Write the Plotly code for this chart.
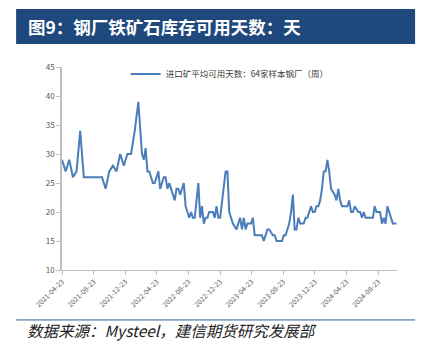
import plotly.graph_objects as go

dates = [
    "2021-04-23", "2021-05-07", "2021-05-21", "2021-06-04", "2021-06-18", "2021-07-02", "2021-07-16",
    "2021-09-24", "2021-10-08", "2021-10-22", "2021-11-05", "2021-11-19", "2021-12-03", "2021-12-17",
    "2021-12-31", "2022-01-14", "2022-01-28", "2022-02-11", "2022-02-25", "2022-03-04", "2022-03-11",
    "2022-03-18", "2022-03-25", "2022-04-08", "2022-04-15", "2022-04-29", "2022-05-06", "2022-05-20",
    "2022-05-27", "2022-06-03", "2022-06-10", "2022-06-24", "2022-07-01", "2022-07-08", "2022-07-15",
    "2022-07-22", "2022-08-05", "2022-08-12", "2022-08-19", "2022-08-26", "2022-09-02", "2022-09-09",
    "2022-09-16", "2022-09-30", "2022-10-07", "2022-10-14", "2022-10-21", "2022-10-28", "2022-11-04",
    "2022-11-11", "2022-11-25", "2022-12-02", "2022-12-09", "2022-12-16", "2022-12-23", "2023-01-06",
    "2023-01-13", "2023-01-20", "2023-01-27", "2023-02-03", "2023-02-10", "2023-02-24", "2023-03-10",
    "2023-03-17", "2023-03-24", "2023-03-31", "2023-04-07", "2023-04-21", "2023-04-28", "2023-05-05",
    "2023-06-02", "2023-06-09", "2023-06-23", "2023-06-30", "2023-07-14", "2023-07-21", "2023-07-28",
    "2023-08-18", "2023-08-25", "2023-09-01", "2023-09-08", "2023-09-15", "2023-09-22", "2023-09-29",
    "2023-10-06", "2023-10-13", "2023-10-20", "2023-10-27", "2023-11-10", "2023-11-17", "2023-11-24",
    "2023-12-08", "2023-12-15", "2023-12-22", "2023-12-29", "2024-01-05", "2024-01-12", "2024-01-19",
    "2024-01-26", "2024-02-02", "2024-02-09", "2024-02-16", "2024-02-23", "2024-03-08", "2024-03-15",
    "2024-03-22", "2024-03-29", "2024-04-05", "2024-04-26", "2024-05-03", "2024-05-10", "2024-05-17",
    "2024-05-24", "2024-06-07", "2024-06-14", "2024-06-21", "2024-06-28", "2024-07-05", "2024-08-02",
    "2024-08-09", "2024-08-16", "2024-08-30", "2024-09-06", "2024-09-13", "2024-09-20", "2024-09-27",
    "2024-10-04", "2024-10-18", "2024-11-01",
]
days = [
    29, 27, 29, 26, 27, 34, 26,
    26, 24, 27, 28, 27, 30, 28,
    30, 30, 34, 39, 30, 29, 31,
    27, 27, 25, 25, 27, 24, 26,
    26, 24, 25, 23, 22, 24, 24,
    23, 25, 21, 20, 19, 20, 19,
    19, 25, 19, 21, 18, 19, 19,
    20, 20, 19, 21, 19, 19, 25,
    27, 27, 20, 19, 18, 17, 19,
    17, 19, 17, 18, 18, 19, 16,
    16, 15, 17, 17, 16, 16, 15,
    15, 16, 16, 17, 18, 20, 23,
    17, 17, 19, 18, 18, 19, 19,
    21, 20, 20, 21, 21, 22, 24,
    27, 27, 29, 27, 24, 23, 22,
    24, 22, 21, 21, 22, 20, 20,
    21, 20, 20, 19, 20, 19, 19,
    21, 20, 20, 18, 19, 18, 21,
    20, 18, 18,
]

series_name = "进口矿平均可用天数：64家样本钢厂（周）"
title_text = "图9：钢厂铁矿石库存可用天数：天"
source_text = "数据来源：Mysteel，建信期货研究发展部"
x_start, x_end = "2021-04-23", "2024-11-03"
y_ticks = [10, 15, 20, 25, 30, 35, 40, 45]

fig = go.Figure()
fig.add_trace(go.Scatter(
    x=dates, y=days, mode="lines", name=series_name,
    line=dict(color="#4a7ebb", width=2),
))

fig.update_layout(
    width=424, height=345,
    margin=dict(l=62, r=27, t=67, b=75),
    paper_bgcolor="white", plot_bgcolor="white",
    font=dict(family="Noto Sans CJK SC, sans-serif", color="#404040"),
    showlegend=True,
    legend=dict(x=0.19, y=0.966, xanchor="left", yanchor="middle",
                font=dict(size=8.5, color="#404040"),
                bgcolor="rgba(0,0,0,0)", itemwidth=30),
    xaxis=dict(
        type="date", range=[x_start, x_end],
        tick0="2021-04-23", dtick="M4", tickformat="%Y-%m-%d",
        tickangle=-45, tickfont=dict(size=7, color="#595959"),
        showgrid=False, showline=True, linecolor="#bfbfbf", linewidth=1,
        ticks="outside", ticklen=4, tickcolor="#bfbfbf",
        zeroline=False,
    ),
    yaxis=dict(
        range=[10, 45], tickvals=y_ticks,
        tickfont=dict(size=8, color="#595959"),
        showgrid=False, showline=True, linecolor="#bfbfbf", linewidth=1.5,
        ticks="outside", ticklen=4, tickcolor="#bfbfbf",
        zeroline=False,
    ),
    shapes=[
        dict(type="rect", xref="paper", yref="paper",
             x0=-0.137, x1=1.054, y0=1.113, y1=1.286,
             fillcolor="#1F497D", line=dict(width=0), layer="below"),
        dict(type="line", xref="paper", yref="paper",
             x0=-0.137, x1=1.054, y0=-0.246, y1=-0.246,
             line=dict(color="#2e5c9a", width=1)),
    ],
    annotations=[
        dict(text="<b>" + title_text + "</b>", xref="paper", yref="paper",
             x=-0.107, y=1.2, xanchor="left", yanchor="middle", showarrow=False,
             font=dict(size=17.5, color="white", family="Noto Sans CJK SC")),
        dict(text="<i>" + source_text + "</i>", xref="paper", yref="paper",
             x=-0.11, y=-0.296, xanchor="left", yanchor="middle", showarrow=False,
             font=dict(size=15.5, color="#222222", family="Noto Sans CJK SC")),
    ],
)

fig.write_html("out.html")
